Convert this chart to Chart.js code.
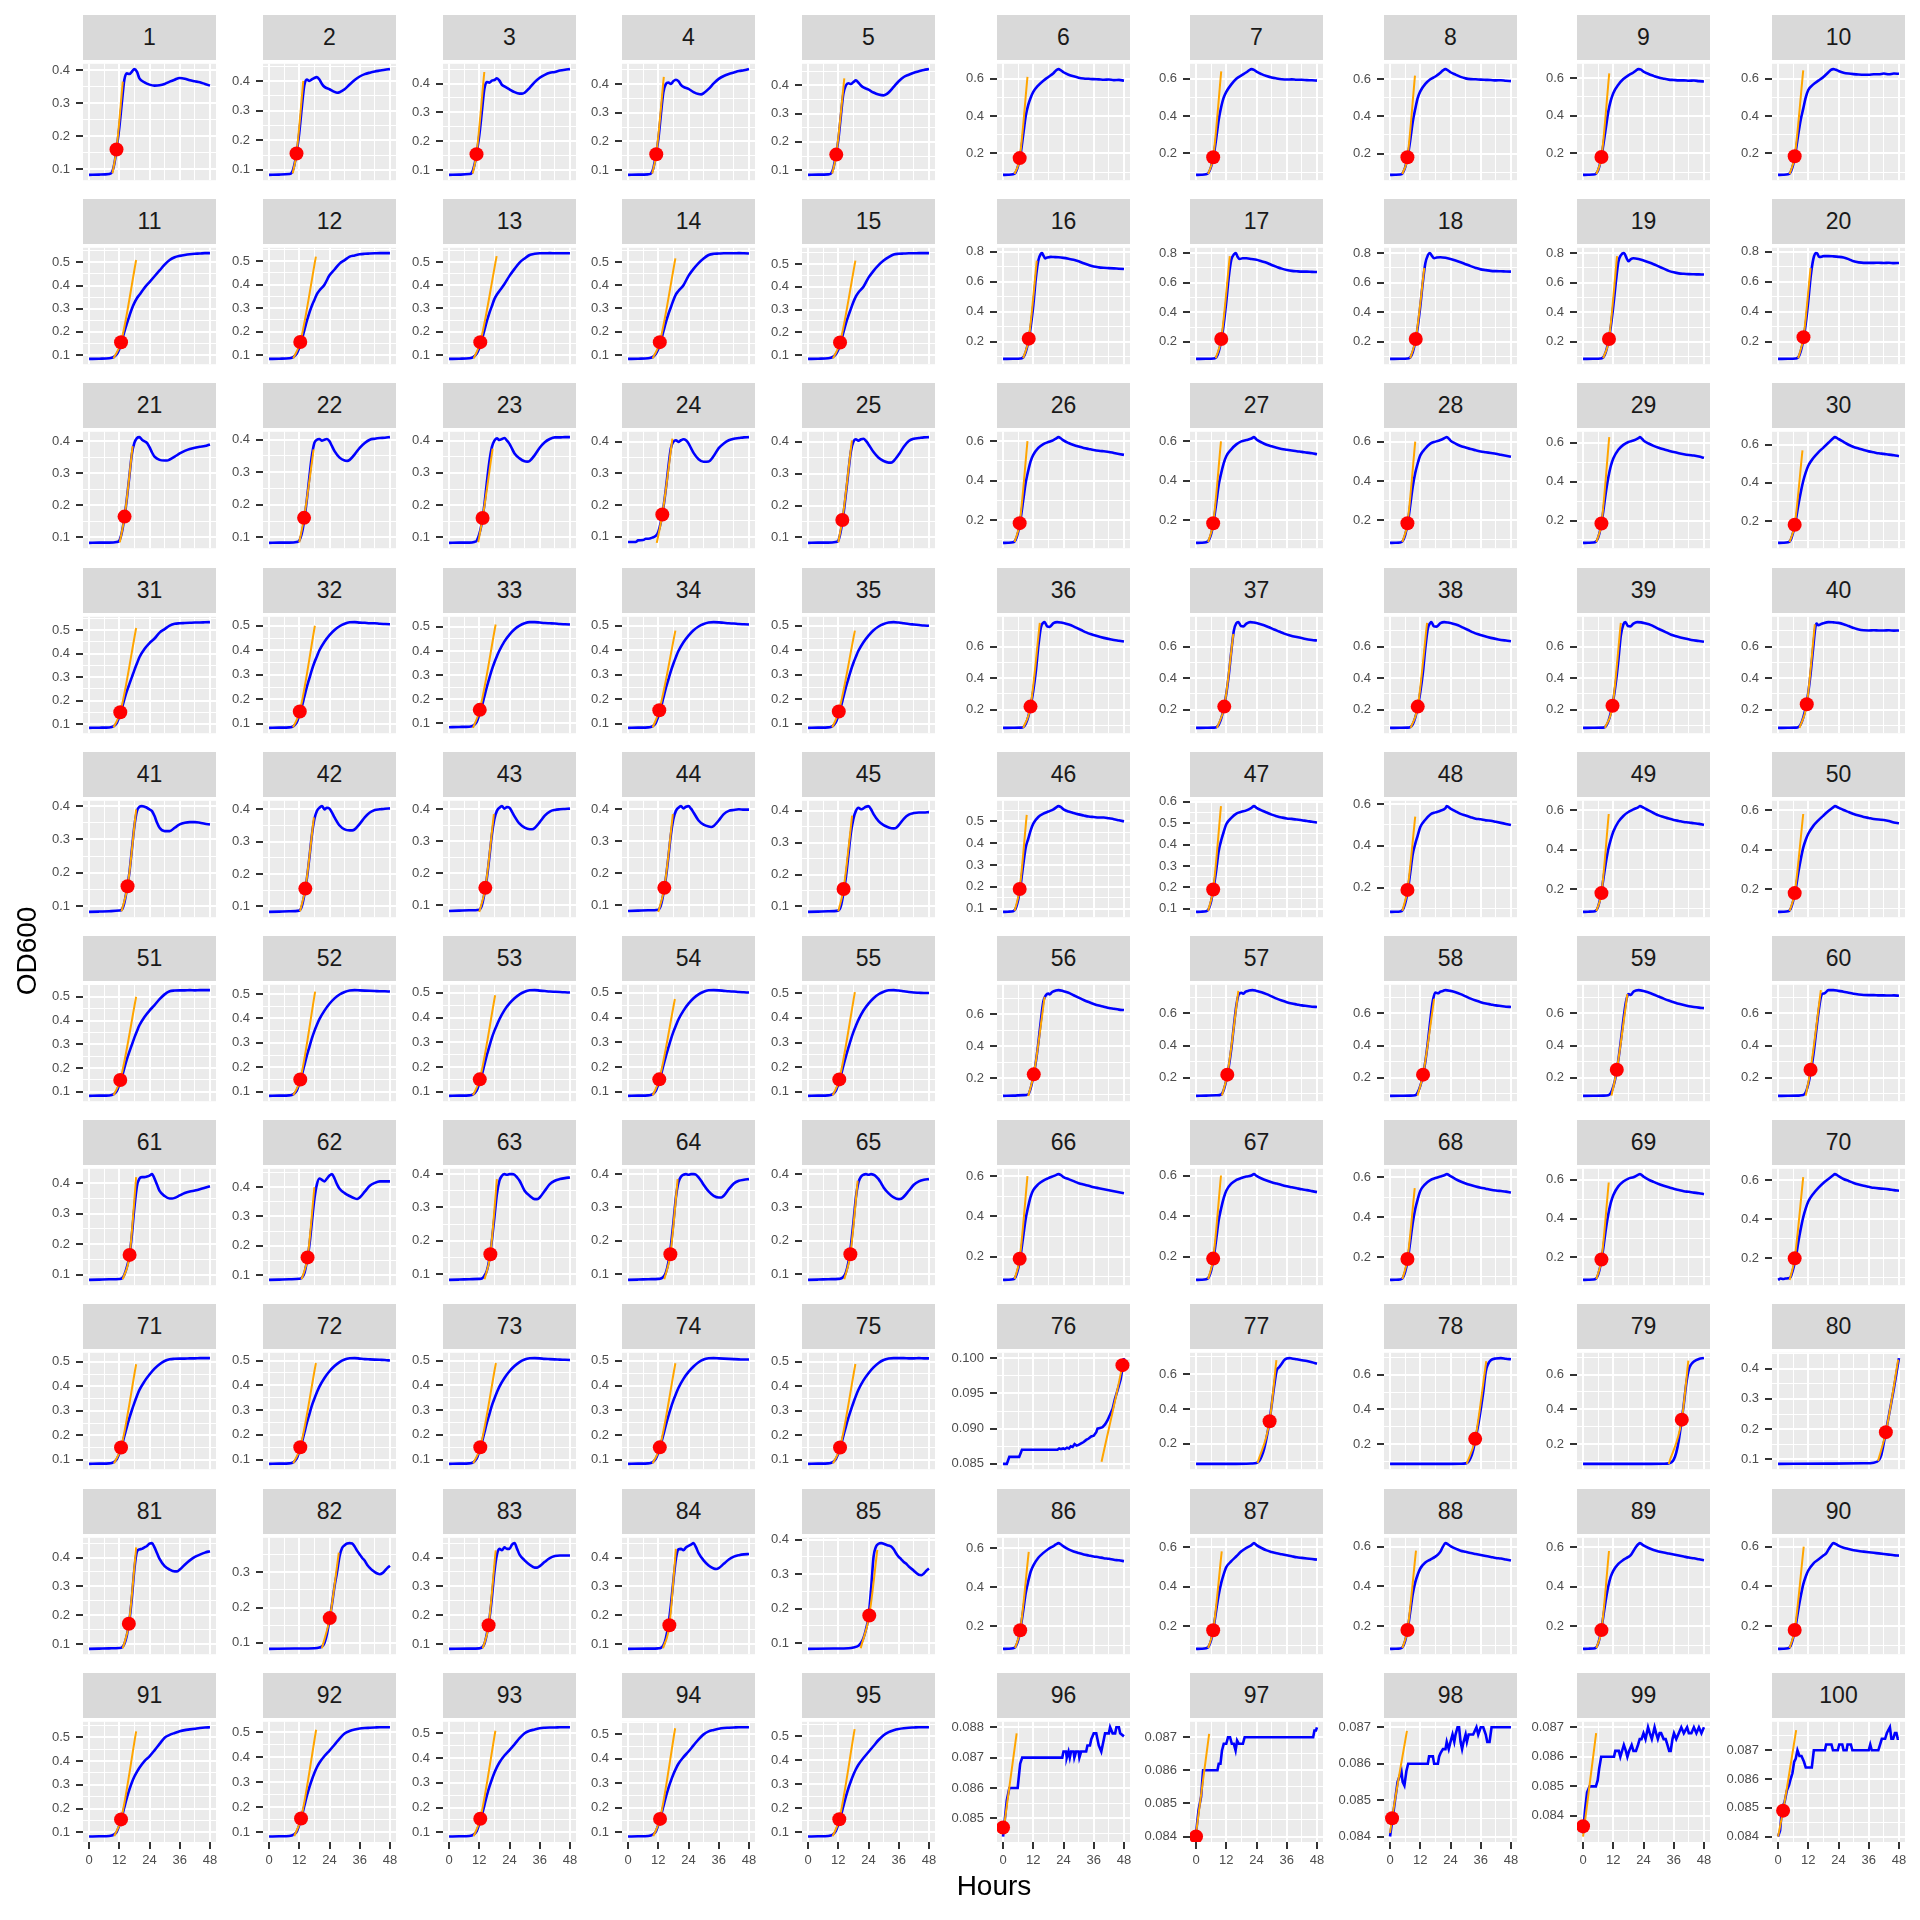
<!DOCTYPE html>
<html><head><meta charset="utf-8">
<script src="https://cdn.jsdelivr.net/npm/chart.js@4.4.1/dist/chart.umd.min.js"></script>
<style>
html,body{margin:0;padding:0;background:#fff;}
#root{position:relative;width:1920px;height:1920px;overflow:hidden;font-family:"Liberation Sans",Arial,Helvetica,sans-serif;}
.strip{position:absolute;background:#D9D9D9;color:#1A1A1A;font-size:23px;display:flex;align-items:center;justify-content:center;line-height:1;}
canvas{position:absolute;}
.ttl{position:absolute;color:#000;font-size:28px;line-height:32px;text-align:center;}
</style></head><body><div id="root"></div>
<script>
// ---------------- DATA ----------------
const wells = [1,2,3,4,5,6,7,8,9,10,11,12,13,14,15,16,17,18,19,20,21,22,23,24,25,26,27,28,29,30,31,32,33,34,35,36,37,38,39,40,41,42,43,44,45,46,47,48,49,50,51,52,53,54,55,56,57,58,59,60,61,62,63,64,65,66,67,68,69,70,71,72,73,74,75,76,77,78,79,80,81,82,83,84,85,86,87,88,89,90,91,92,93,94,95,96,97,98,99,100];
const hourTicks = [0, 12, 24, 36, 48];
const hourMinorTicks = [6, 18, 30, 42];
const xLabel = "Hours";
const yLabel = "OD600";

// each curve: flat list of hour, OD600 pairs
const odRow1 = [
[0,.083,4,.084,8,.086,9,.09,10,.115,11,.165,12,.225,13,.3,14,.37,15,.39,16,.388,17,.395,18,.403,19,.395,20,.375,22,.363,24,.356,26,.353,28,.354,30,.358,32,.365,34,.371,36,.376,38,.374,40,.369,42,.366,44,.363,46,.358,48,.353],
[0,.083,4,.084,8,.086,9,.09,10,.115,11,.16,12,.225,13,.31,14,.385,15,.405,16,.4,17,.405,18,.41,19,.413,20,.405,21,.39,22,.38,24,.372,26,.363,27,.36,28,.362,30,.372,32,.388,34,.403,36,.415,38,.423,40,.428,42,.432,44,.435,46,.438,48,.44],
[0,.083,4,.084,8,.086,9,.09,10,.115,11,.16,12,.22,13,.3,14,.38,15,.405,16,.403,17,.41,18,.412,19,.418,20,.41,21,.395,22,.39,24,.38,26,.37,28,.365,29,.365,30,.368,32,.385,34,.405,36,.42,38,.43,40,.437,42,.44,44,.445,46,.448,48,.45],
[0,.083,4,.084,8,.085,9,.087,10,.105,11,.15,12,.205,13,.29,14,.37,15,.4,16,.405,17,.4,18,.41,19,.415,20,.41,21,.397,22,.39,24,.383,26,.372,28,.365,29,.364,30,.368,32,.383,34,.402,36,.418,38,.428,40,.435,42,.44,44,.445,46,.448,48,.452],
[0,.083,4,.084,8,.085,9,.087,10,.105,11,.15,12,.205,13,.29,14,.37,15,.4,16,.408,17,.405,18,.412,19,.418,20,.41,21,.4,22,.393,24,.385,26,.375,28,.368,30,.365,31,.368,32,.375,34,.395,36,.415,38,.43,40,.438,42,.445,44,.45,46,.455,48,.458],
[0,.085,2,.086,4,.088,5,.098,6,.135,7,.2,8,.3,9,.4,10,.46,11,.5,12,.53,14,.565,16,.59,18,.61,20,.63,21,.645,22,.652,23,.645,24,.635,26,.622,28,.613,30,.606,32,.602,34,.6,36,.598,38,.597,40,.595,42,.596,44,.593,46,.594,48,.59],
[0,.085,2,.086,4,.088,5,.097,6,.13,7,.19,8,.28,9,.38,10,.45,11,.5,12,.53,14,.57,16,.6,18,.618,20,.635,21,.645,22,.652,23,.648,24,.638,26,.625,28,.615,30,.607,32,.602,34,.598,36,.596,38,.597,40,.595,42,.595,44,.593,46,.592,48,.59],
[0,.085,2,.086,4,.087,5,.094,6,.125,7,.185,8,.27,9,.37,10,.44,11,.5,12,.535,14,.575,16,.6,18,.615,20,.635,21,.648,22,.655,23,.648,24,.638,26,.625,28,.613,30,.605,32,.601,34,.6,36,.598,38,.597,40,.596,42,.594,44,.595,46,.592,48,.59],
[0,.085,2,.086,4,.087,5,.09,6,.11,7,.16,8,.24,9,.33,10,.42,11,.48,12,.52,14,.565,16,.595,18,.615,20,.63,21,.64,22,.648,23,.645,24,.635,26,.622,28,.612,30,.603,32,.597,34,.592,36,.59,38,.588,40,.588,42,.586,44,.587,46,.584,48,.582],
[0,.085,2,.086,4,.088,5,.1,6,.14,7,.21,8,.3,9,.38,10,.44,11,.5,12,.54,14,.57,16,.59,18,.61,20,.635,21,.648,22,.652,23,.648,24,.642,26,.633,28,.628,30,.625,32,.623,34,.622,36,.622,38,.624,40,.624,42,.628,44,.624,46,.628,48,.627]
];
const odRow2 = [
[0,.083,4,.084,8,.086,9,.088,10,.093,11,.103,12,.125,13,.16,14,.2,15,.235,16,.268,17,.3,18,.325,19,.345,20,.36,22,.39,24,.415,26,.44,28,.465,30,.49,32,.51,34,.522,36,.528,38,.532,40,.535,42,.537,44,.538,46,.54,48,.54],
[0,.083,4,.084,8,.086,9,.088,10,.094,11,.106,12,.13,13,.165,14,.205,15,.245,16,.28,17,.31,18,.335,19,.36,20,.375,22,.4,24,.44,26,.465,28,.49,30,.505,32,.52,34,.525,36,.53,38,.532,40,.533,42,.534,44,.535,46,.535,48,.535],
[0,.083,4,.084,8,.086,9,.088,10,.094,11,.106,12,.13,13,.165,14,.205,15,.245,16,.28,17,.31,18,.34,19,.36,20,.375,22,.405,24,.44,26,.47,28,.497,30,.515,32,.53,34,.535,36,.537,38,.537,40,.538,42,.537,44,.537,46,.537,48,.537],
[0,.083,4,.084,8,.086,9,.088,10,.093,11,.104,12,.125,13,.16,14,.2,15,.24,16,.275,17,.305,18,.335,19,.36,20,.375,22,.4,24,.44,26,.47,28,.495,30,.515,32,.53,34,.535,36,.536,38,.537,40,.537,42,.537,44,.538,46,.537,48,.536],
[0,.083,4,.084,8,.086,9,.088,10,.093,11,.103,12,.123,13,.158,14,.198,15,.238,16,.272,17,.303,18,.333,19,.358,20,.375,22,.4,24,.44,26,.47,28,.495,30,.515,32,.53,34,.542,36,.545,38,.546,40,.547,42,.547,44,.548,46,.548,48,.548],
[0,.085,4,.086,7,.088,8,.095,9,.13,10,.2,11,.3,12,.44,13,.62,14,.74,15,.785,15.5,.79,16,.775,16.7,.755,17.5,.76,19,.765,20,.764,22,.762,24,.758,26,.752,28,.745,30,.735,32,.722,34,.71,36,.7,38,.695,40,.692,42,.69,44,.688,46,.686,48,.684],
[0,.085,4,.086,7,.088,8,.095,9,.135,10,.21,11,.32,12,.47,13,.64,14,.755,15,.79,15.8,.8,16.5,.775,17.3,.76,18.5,.765,20,.765,22,.76,24,.755,26,.745,28,.735,30,.72,32,.707,34,.695,36,.686,38,.68,40,.677,42,.675,44,.675,46,.673,48,.672],
[0,.085,4,.086,7,.088,8,.095,9,.13,10,.2,11,.3,12,.44,13,.6,14,.73,15,.785,15.8,.8,16.5,.785,17.5,.765,18.5,.77,20,.772,22,.768,24,.76,26,.75,28,.738,30,.725,32,.712,34,.7,36,.69,38,.685,40,.68,42,.678,44,.677,46,.676,48,.675],
[0,.085,4,.086,7,.088,8,.095,9,.13,10,.2,11,.3,12,.44,13,.6,14,.74,15,.785,16,.8,16.5,.795,17.3,.765,18,.745,19,.76,20,.765,22,.76,24,.75,26,.738,28,.725,30,.71,32,.695,34,.68,36,.67,38,.663,40,.66,42,.658,44,.657,46,.656,48,.655],
[0,.085,4,.086,7,.088,8,.095,9,.135,10,.21,11,.32,12,.47,13,.64,14,.75,15,.79,15.5,.788,16.3,.765,17,.765,18,.77,20,.77,22,.768,24,.765,26,.76,28,.75,30,.735,32,.728,34,.725,36,.725,38,.725,40,.726,42,.724,44,.726,46,.723,48,.724]
];
const odRow3 = [
[0,.083,4,.084,8,.084,11,.086,12,.09,13,.115,14,.16,15,.22,16,.29,17,.36,18,.395,19,.41,20,.413,21,.405,22,.4,23,.395,24,.382,25,.365,26,.352,28,.342,30,.34,31,.34,32,.343,34,.352,36,.362,38,.37,40,.376,42,.38,44,.383,46,.385,48,.39],
[0,.083,4,.084,8,.084,11,.086,12,.09,13,.112,14,.155,15,.215,16,.285,17,.35,18,.39,19,.4,20,.402,21,.397,22,.4,23,.402,24,.395,25,.38,26,.365,28,.345,30,.336,31,.335,32,.338,34,.355,36,.375,38,.39,40,.4,42,.403,44,.405,46,.406,48,.408],
[0,.083,4,.084,8,.084,10,.086,11,.09,12,.11,13,.145,14,.2,15,.27,16,.335,17,.38,18,.4,19,.407,20,.402,21,.405,22,.408,23,.4,24,.39,25,.375,26,.36,28,.345,30,.336,31,.335,32,.337,34,.355,36,.378,38,.395,40,.405,42,.41,44,.41,46,.411,48,.411],
[0,.083,3,.083,4,.088,6,.089,7,.093,8,.093,10,.098,11,.102,12,.115,13,.145,14,.19,15,.25,16,.32,17,.38,18,.4,19,.405,20,.4,21,.405,22,.408,23,.405,24,.395,25,.38,26,.365,28,.345,30,.337,32,.338,34,.355,36,.38,38,.395,40,.405,42,.41,44,.412,46,.414,48,.415],
[0,.083,4,.084,8,.084,11,.086,12,.09,13,.12,14,.17,15,.235,16,.305,17,.37,18,.4,19,.408,20,.404,21,.408,22,.41,23,.403,24,.392,26,.368,28,.35,30,.34,32,.335,33,.335,34,.34,36,.36,38,.385,40,.403,42,.41,44,.412,46,.414,48,.415],
[0,.085,2,.086,4,.088,5,.1,6,.14,7,.21,8,.3,9,.39,10,.45,11,.5,12,.53,14,.565,16,.585,18,.595,20,.605,21,.612,22,.62,23,.613,24,.603,26,.59,28,.58,30,.572,32,.565,34,.56,36,.555,38,.551,40,.548,42,.545,44,.54,46,.535,48,.53],
[0,.085,2,.086,4,.088,5,.097,6,.13,7,.195,8,.285,9,.38,10,.44,11,.49,12,.525,14,.56,16,.585,18,.6,20,.607,22,.615,23,.622,24,.61,26,.595,28,.583,30,.575,32,.568,34,.562,36,.558,38,.554,40,.55,42,.547,44,.543,46,.54,48,.535],
[0,.085,2,.086,4,.087,5,.094,6,.125,7,.185,8,.275,9,.37,10,.44,11,.49,12,.53,14,.565,16,.59,18,.6,20,.608,22,.62,22.5,.623,23.5,.613,24,.605,26,.59,28,.578,30,.57,32,.562,34,.556,36,.55,38,.546,40,.542,42,.538,44,.533,46,.528,48,.523],
[0,.085,2,.086,4,.087,5,.09,6,.112,7,.165,8,.245,9,.34,10,.42,11,.48,12,.52,14,.565,16,.59,18,.605,20,.612,22,.625,22.6,.63,23.5,.62,24,.613,26,.597,28,.585,30,.575,32,.567,34,.56,36,.553,38,.547,40,.542,42,.538,44,.535,46,.53,48,.523],
[0,.085,2,.086,4,.088,5,.1,6,.14,7,.2,8,.28,9,.35,10,.41,11,.455,12,.49,14,.53,16,.56,18,.585,20,.61,22,.635,22.5,.64,24,.63,26,.615,28,.6,30,.588,32,.58,34,.572,36,.565,38,.56,40,.555,42,.552,44,.548,46,.545,48,.54]
];
const odRow4 = [
[0,.083,4,.084,8,.085,9,.087,10,.092,11,.103,12,.13,13,.165,14,.205,15,.24,16,.27,17,.3,18,.33,19,.358,20,.385,22,.42,24,.445,26,.465,28,.49,30,.505,32,.52,34,.528,36,.53,38,.531,40,.532,42,.533,44,.533,46,.534,48,.535],
[0,.083,4,.084,8,.085,9,.087,10,.093,11,.105,12,.135,13,.17,14,.21,15,.25,16,.285,17,.32,18,.35,19,.375,20,.4,22,.435,24,.462,26,.483,28,.498,30,.508,32,.514,34,.515,36,.513,38,.512,40,.51,42,.51,44,.508,46,.507,48,.506],
[0,.083,4,.084,8,.085,9,.087,10,.093,11,.105,12,.135,13,.17,14,.21,15,.25,16,.287,17,.322,18,.352,19,.378,20,.402,22,.44,24,.468,26,.49,28,.505,30,.515,32,.52,34,.52,36,.518,38,.516,40,.515,42,.514,44,.512,46,.511,48,.51],
[0,.083,4,.084,8,.085,9,.087,10,.092,11,.103,12,.13,13,.165,14,.205,15,.245,16,.28,17,.315,18,.345,19,.372,20,.397,22,.433,24,.46,26,.482,28,.497,30,.507,32,.513,34,.515,36,.514,38,.512,40,.51,42,.509,44,.507,46,.506,48,.505],
[0,.083,4,.084,8,.085,9,.087,10,.093,11,.105,12,.133,13,.168,14,.208,15,.248,16,.283,17,.318,18,.348,19,.374,20,.398,22,.433,24,.46,26,.482,28,.497,30,.507,32,.513,34,.515,36,.513,38,.51,40,.507,42,.505,44,.503,46,.501,48,.5],
[0,.085,4,.086,7,.087,8,.09,9,.11,10,.155,11,.225,12,.32,13,.44,14,.6,15,.72,16,.752,16.5,.755,17.5,.728,18.5,.725,20,.748,21.5,.755,23,.752,25,.745,27,.735,29,.72,31,.705,33,.69,35,.678,37,.668,40,.655,43,.645,46,.637,48,.632],
[0,.085,4,.086,7,.087,8,.089,9,.105,10,.145,11,.21,12,.3,13,.42,14,.57,15,.7,16,.748,16.8,.755,17.8,.73,18.8,.728,20,.745,21.5,.755,23,.752,25,.745,27,.735,29,.722,31,.708,33,.695,35,.682,37,.672,40,.66,43,.65,46,.642,48,.638],
[0,.085,4,.086,7,.087,8,.09,9,.108,10,.15,11,.218,12,.31,13,.43,14,.59,15,.715,16,.75,16.4,.755,17.4,.728,18.4,.726,20,.748,21.5,.755,23,.752,25,.745,27,.735,29,.72,31,.705,33,.69,35,.678,37,.668,40,.655,43,.645,46,.638,48,.634],
[0,.085,4,.086,8,.087,9,.095,10,.125,11,.18,12,.26,13,.37,14,.51,15,.67,16,.74,16.8,.755,17.8,.73,18.8,.728,20,.745,21.5,.755,23,.753,25,.746,27,.736,29,.72,31,.705,33,.69,35,.675,37,.665,40,.652,43,.642,46,.635,48,.63],
[0,.085,4,.086,7,.087,8,.09,9,.108,10,.15,11,.215,12,.31,13,.44,14,.6,14.8,.72,15.3,.745,16,.735,17,.742,18,.748,20,.755,22,.753,24,.75,26,.742,28,.73,30,.718,32,.708,34,.703,36,.702,38,.703,40,.702,42,.702,44,.703,46,.701,48,.702]
];
const odRow5 = [
[0,.083,4,.084,8,.085,12,.087,13,.09,14,.11,15,.15,16,.2,17,.27,18,.34,19,.385,20,.398,21,.4,22,.398,23,.395,24,.39,25,.385,26,.37,27,.35,28,.335,30,.325,32,.325,34,.335,36,.345,38,.35,40,.352,42,.352,44,.35,46,.347,48,.345],
[0,.083,4,.084,8,.085,12,.087,13,.1,14,.135,15,.185,16,.25,17,.32,18,.37,19,.395,20,.405,21,.41,22,.4,23,.405,24,.402,25,.39,26,.375,28,.35,30,.338,32,.335,33,.335,34,.338,36,.355,38,.375,40,.39,42,.398,44,.4,46,.402,48,.403],
[0,.083,4,.084,8,.085,12,.087,13,.1,14,.135,15,.185,16,.25,17,.32,18,.37,19,.395,20,.405,21,.41,22,.402,23,.407,24,.405,25,.392,26,.378,28,.355,30,.343,32,.338,33,.338,34,.342,36,.36,38,.38,40,.393,42,.398,44,.4,46,.401,48,.402],
[0,.083,4,.084,8,.085,12,.087,13,.1,14,.135,15,.185,16,.25,17,.32,18,.37,19,.395,20,.405,21,.41,22,.403,23,.408,24,.41,25,.402,26,.39,28,.365,30,.352,32,.346,33,.345,34,.348,36,.365,38,.385,40,.395,42,.398,44,.4,46,.399,48,.399],
[0,.083,4,.084,8,.085,12,.087,13,.1,14,.14,15,.19,16,.26,17,.33,18,.375,19,.4,20,.41,21,.405,22,.408,23,.413,24,.415,25,.405,26,.39,28,.368,30,.355,32,.348,34,.345,35,.347,36,.355,38,.375,40,.388,42,.393,44,.395,46,.395,48,.396],
[0,.085,2,.086,4,.088,5,.1,6,.14,7,.21,8,.3,9,.38,10,.42,11,.46,12,.49,14,.52,16,.535,18,.545,20,.555,21,.563,22,.57,23,.565,24,.555,26,.545,28,.538,30,.532,32,.527,34,.522,36,.52,38,.518,40,.518,42,.514,44,.51,46,.505,48,.5],
[0,.085,2,.086,4,.088,5,.098,6,.135,7,.2,8,.28,9,.37,10,.42,11,.46,12,.495,14,.525,16,.545,18,.553,20,.56,22,.572,23,.58,24,.572,26,.56,28,.55,30,.54,32,.533,34,.527,36,.522,38,.52,40,.517,42,.514,44,.51,46,.507,48,.503],
[0,.085,2,.086,4,.087,5,.094,6,.125,7,.185,8,.27,9,.36,10,.41,11,.45,12,.49,14,.525,16,.55,18,.56,20,.568,22,.58,22.5,.59,24,.578,26,.565,28,.553,30,.545,32,.537,34,.53,36,.527,38,.522,40,.52,42,.515,44,.51,46,.505,48,.5],
[0,.085,2,.086,4,.087,5,.09,6,.112,7,.165,8,.245,9,.33,10,.4,11,.45,12,.49,14,.54,16,.57,18,.59,20,.603,22,.615,22.6,.62,24,.612,26,.598,28,.585,30,.573,32,.565,34,.557,36,.55,38,.545,40,.54,42,.537,44,.533,46,.53,48,.525],
[0,.085,2,.086,4,.088,5,.1,6,.14,7,.2,8,.28,9,.35,10,.41,11,.45,12,.48,14,.52,16,.548,18,.572,20,.595,22,.615,22.6,.62,24,.612,26,.6,28,.59,30,.58,32,.572,34,.565,36,.56,38,.555,40,.552,42,.55,44,.545,46,.537,48,.533]
];
const odRow6 = [
[0,.083,4,.084,8,.085,9,.087,10,.092,11,.103,12,.13,13,.162,14,.2,15,.237,16,.268,17,.298,18,.328,19,.355,20,.38,22,.415,24,.442,26,.465,28,.49,30,.51,32,.523,34,.526,36,.527,38,.527,40,.528,42,.527,44,.528,46,.528,48,.528],
[0,.083,4,.084,8,.085,9,.087,10,.093,11,.105,12,.133,13,.168,14,.208,15,.248,16,.283,17,.318,18,.348,19,.374,20,.397,22,.432,24,.46,26,.482,28,.498,30,.508,32,.514,34,.516,36,.515,38,.514,40,.513,42,.512,44,.511,46,.511,48,.51],
[0,.083,4,.084,8,.085,9,.087,10,.093,11,.105,12,.133,13,.168,14,.208,15,.248,16,.283,17,.318,18,.346,19,.37,20,.393,22,.43,24,.457,26,.478,28,.494,30,.504,32,.51,34,.511,36,.509,38,.507,40,.505,42,.504,44,.503,46,.502,48,.501],
[0,.083,4,.084,8,.085,9,.087,10,.092,11,.103,12,.13,13,.165,14,.205,15,.243,16,.278,17,.312,18,.342,19,.368,20,.392,22,.428,24,.456,26,.478,28,.494,30,.504,32,.51,34,.511,36,.51,38,.508,40,.506,42,.505,44,.503,46,.502,48,.501],
[0,.083,4,.084,8,.085,9,.087,10,.092,11,.103,12,.13,13,.165,14,.205,15,.243,16,.278,17,.312,18,.342,19,.368,20,.392,22,.43,24,.458,26,.48,28,.496,30,.506,32,.512,34,.513,36,.511,38,.508,40,.505,42,.503,44,.502,46,.501,48,.501],
[0,.09,4,.092,8,.095,10,.1,11,.14,12,.21,13,.3,14,.42,15,.56,16,.68,17,.72,18,.73,18.5,.725,19.5,.74,21,.75,22,.752,24,.745,26,.735,28,.72,30,.705,32,.69,34,.677,36,.665,38,.655,40,.648,42,.64,44,.635,46,.63,48,.627],
[0,.088,4,.09,8,.092,10,.097,11,.125,12,.185,13,.27,14,.38,15,.52,16,.65,17,.72,18,.728,18.7,.722,19.7,.735,21,.742,22.4,.745,24,.74,26,.732,28,.72,30,.706,32,.692,34,.68,36,.67,38,.662,40,.656,42,.65,44,.646,46,.642,48,.64],
[0,.088,4,.089,8,.09,10,.092,11,.11,12,.15,13,.21,14,.3,15,.42,16,.56,17,.68,18,.73,19,.725,20,.735,21,.74,22,.745,24,.74,26,.732,28,.72,30,.706,32,.692,34,.68,36,.67,38,.662,40,.656,42,.65,44,.646,46,.642,48,.64],
[0,.088,4,.089,8,.09,10,.092,11,.105,12,.145,13,.21,14,.31,15,.43,16,.56,17,.67,18,.72,19,.715,20,.735,21,.742,22,.745,24,.74,26,.73,28,.718,30,.705,32,.692,34,.68,36,.67,38,.66,40,.652,42,.645,44,.64,46,.636,48,.633],
[0,.088,4,.089,8,.09,10,.093,11,.11,12,.16,13,.24,14,.34,15,.47,16,.6,17,.7,17.5,.72,18.5,.725,20,.745,22,.745,24,.74,26,.735,28,.728,30,.722,32,.718,34,.715,36,.714,38,.714,40,.712,42,.712,44,.711,46,.712,48,.71]
];
const odRow7 = [
[0,.083,4,.084,8,.085,12,.086,13,.088,14,.1,15,.125,16,.16,17,.23,18,.32,19,.39,20,.415,21,.42,22,.42,23,.422,24,.425,25,.43,26,.415,27,.395,28,.375,30,.358,32,.35,33,.35,34,.352,36,.36,38,.368,40,.373,42,.376,44,.38,46,.385,48,.39],
[0,.083,4,.084,8,.085,12,.087,13,.09,14,.105,15,.145,16,.2,17,.28,18,.36,19,.41,20,.43,21,.425,22,.42,23,.43,24,.44,25,.445,26,.43,27,.41,28,.395,30,.38,32,.37,34,.362,35,.36,36,.365,38,.385,40,.405,42,.415,44,.42,46,.42,48,.42],
[0,.083,4,.084,8,.085,12,.086,13,.087,14,.095,15,.11,16,.145,17,.2,18,.27,19,.34,20,.38,21,.395,22,.4,23,.398,24,.4,25,.4,26,.398,27,.39,28,.38,29,.365,30,.35,32,.335,34,.325,35,.325,36,.33,38,.35,40,.37,42,.38,44,.385,46,.388,48,.39],
[0,.083,4,.084,8,.085,12,.086,13,.087,14,.092,15,.105,16,.135,17,.185,18,.255,19,.33,20,.375,21,.392,22,.398,23,.4,24,.398,25,.4,26,.4,27,.398,28,.39,29,.38,30,.368,32,.348,34,.335,36,.33,37,.33,38,.335,40,.355,42,.372,44,.38,46,.383,48,.385],
[0,.083,4,.084,8,.085,12,.086,13,.087,14,.092,15,.105,16,.135,17,.185,18,.255,19,.33,20,.375,21,.392,22,.398,23,.4,24,.398,25,.4,26,.398,27,.393,28,.385,29,.373,30,.36,32,.342,34,.33,36,.325,37,.326,38,.332,40,.35,42,.368,44,.378,46,.383,48,.385],
[0,.085,2,.086,4,.088,5,.1,6,.14,7,.21,8,.3,9,.39,10,.45,11,.5,12,.53,14,.56,16,.578,18,.59,20,.6,21,.605,22,.61,23,.605,24,.595,26,.585,28,.575,30,.565,32,.558,34,.552,36,.545,38,.54,40,.535,42,.53,44,.525,46,.52,48,.515],
[0,.085,2,.086,4,.088,5,.097,6,.13,7,.195,8,.285,9,.38,10,.44,11,.49,12,.525,14,.56,16,.578,18,.588,20,.595,22,.6,23,.607,24,.598,26,.585,28,.575,30,.567,32,.56,34,.553,36,.547,38,.542,40,.537,42,.532,44,.528,46,.523,48,.518],
[0,.085,2,.086,4,.087,5,.094,6,.125,7,.185,8,.275,9,.37,10,.44,11,.49,12,.53,14,.565,16,.585,18,.595,20,.603,22,.612,22.5,.615,24,.605,26,.59,28,.578,30,.568,32,.56,34,.553,36,.547,38,.542,40,.537,42,.533,44,.53,46,.527,48,.523],
[0,.085,2,.086,4,.087,5,.09,6,.112,7,.165,8,.245,9,.34,10,.42,11,.48,12,.52,14,.565,16,.59,18,.605,20,.612,22,.625,22.6,.628,24,.615,26,.6,28,.588,30,.577,32,.568,34,.56,36,.553,38,.546,40,.54,42,.537,44,.533,46,.53,48,.525],
[0,.09,1,.097,2,.095,3,.097,4,.098,5,.105,6,.145,7,.2,8,.28,9,.35,10,.41,11,.455,12,.49,14,.53,16,.56,18,.585,20,.605,22,.625,22.5,.63,24,.62,26,.605,28,.595,30,.585,32,.577,34,.57,36,.565,38,.56,40,.557,42,.555,44,.552,46,.548,48,.545]
];
const odRow8 = [
[0,.083,4,.084,8,.085,9,.087,10,.092,11,.102,12,.125,13,.158,14,.196,15,.234,16,.27,17,.302,18,.332,19,.36,20,.385,22,.42,24,.448,26,.472,28,.49,30,.503,32,.51,34,.512,36,.513,38,.513,40,.514,42,.514,44,.515,46,.515,48,.515],
[0,.083,4,.084,8,.085,9,.087,10,.093,11,.105,12,.133,13,.168,14,.208,15,.248,16,.283,17,.318,18,.346,19,.372,20,.395,22,.43,24,.457,26,.478,28,.494,30,.504,32,.509,34,.51,36,.508,38,.506,40,.505,42,.504,44,.503,46,.502,48,.5],
[0,.083,4,.084,8,.085,9,.087,10,.093,11,.105,12,.133,13,.168,14,.208,15,.248,16,.283,17,.318,18,.346,19,.372,20,.395,22,.43,24,.457,26,.478,28,.494,30,.504,32,.509,34,.51,36,.509,38,.507,40,.506,42,.505,44,.504,46,.503,48,.502],
[0,.083,4,.084,8,.085,9,.087,10,.092,11,.103,12,.128,13,.162,14,.2,15,.24,16,.276,17,.31,18,.34,19,.366,20,.39,22,.427,24,.455,26,.477,28,.494,30,.505,32,.51,34,.511,36,.51,38,.509,40,.508,42,.507,44,.506,46,.505,48,.505],
[0,.083,4,.084,8,.085,9,.087,10,.092,11,.102,12,.125,13,.158,14,.196,15,.234,16,.27,17,.302,18,.332,19,.36,20,.385,22,.423,24,.452,26,.476,28,.494,30,.506,32,.512,34,.514,36,.514,38,.514,40,.513,42,.513,44,.514,46,.513,48,.513],
[0,.085,1.5,.085,2.5,.086,6.4,.086,7.5,.087,21.6,.087,22.3,.0872,23,.0871,23.9,.0872,24.5,.0871,25.4,.0873,26.2,.0872,26.9,.0875,27.6,.0874,28.4,.0878,29.2,.0876,30,.0877,31,.0879,32,.0881,33,.0884,34,.0886,35,.0889,36,.089,37,.0895,37.5,.09,38.5,.0901,39.5,.0902,40.5,.0906,41.5,.0912,42.5,.092,43.5,.0928,44.4,.0942,45.5,.0955,46.7,.097,47.4,.0985,48,.1],
[0,.085,10,.085,20,.086,22,.087,24,.09,25,.1,26,.128,27,.17,28,.235,29,.315,30,.42,31,.53,32,.62,33,.64,34,.66,35,.68,36,.69,37,.692,38,.69,40,.685,42,.68,44,.675,46,.668,48,.66],
[0,.085,10,.085,20,.085,28,.086,30,.088,31,.095,32,.12,33,.165,34,.235,35,.31,36,.4,37,.5,38,.62,39,.665,40,.685,42,.695,44,.697,46,.693,48,.69],
[0,.085,20,.085,32,.086,34,.088,35,.093,36,.11,37,.15,38,.22,39,.32,40,.43,41,.55,42,.63,43,.66,44,.675,46,.69,48,.695],
[0,.085,20,.086,34,.087,38,.089,40,.097,41,.115,42,.155,43,.2,44,.245,45,.29,46,.335,47,.385,48,.435]
];
const odRow9 = [
[0,.083,4,.084,8,.085,12,.086,13,.088,14,.1,15,.13,16,.18,17,.26,18,.36,19,.42,20,.428,21,.43,22,.435,23,.44,24,.448,25,.45,26,.435,27,.415,28,.395,30,.37,32,.358,34,.352,35,.352,36,.358,38,.375,40,.39,42,.402,44,.41,46,.417,48,.422],
[0,.083,10,.084,18,.085,20,.087,21,.09,22,.1,23,.125,24,.165,25,.21,26,.26,27,.3,28,.345,29,.368,30,.376,31,.381,32,.382,33,.381,34,.372,35,.36,36,.35,37,.34,38,.332,39,.32,40,.312,41,.305,42,.3,43,.296,44,.294,45,.297,46,.304,47,.312,48,.318],
[0,.083,8,.084,12,.085,13,.088,14,.1,15,.135,16,.185,17,.26,18,.35,19,.41,20,.43,21,.425,22,.435,23,.43,24,.43,25,.445,26,.45,27,.43,28,.41,30,.39,32,.375,34,.365,35,.365,36,.37,38,.385,40,.398,42,.405,44,.407,46,.407,48,.407],
[0,.083,8,.084,12,.085,13,.087,14,.095,15,.12,16,.165,17,.235,18,.32,19,.395,20,.428,21,.43,22,.425,23,.435,24,.44,25,.445,26,.45,27,.435,28,.415,30,.39,32,.372,34,.362,35,.36,36,.363,38,.378,40,.393,42,.403,44,.408,46,.411,48,.412],
[0,.083,10,.084,16,.085,18,.087,20,.092,21,.1,22,.115,23,.14,24,.175,25,.255,26,.35,27,.38,28,.388,29,.39,30,.388,31,.385,32,.383,33,.38,34,.372,35,.36,36,.35,37,.343,38,.335,39,.33,40,.322,42,.31,43,.303,44,.298,45,.297,46,.302,47,.31,48,.316],
[0,.085,2,.086,4,.088,5,.097,6,.13,7,.195,8,.28,9,.37,10,.43,11,.48,12,.51,14,.55,16,.575,18,.595,20,.61,21,.618,22,.625,23,.618,24,.608,26,.593,28,.582,30,.574,32,.567,34,.562,36,.557,38,.553,40,.548,42,.545,44,.54,46,.537,48,.533],
[0,.085,2,.086,4,.088,5,.097,6,.13,7,.195,8,.28,9,.36,10,.42,11,.465,12,.5,14,.53,16,.555,18,.58,20,.598,22,.612,23,.622,24,.612,26,.597,28,.585,30,.577,32,.57,34,.565,36,.56,38,.555,40,.55,42,.547,44,.544,46,.541,48,.538],
[0,.085,2,.086,4,.087,5,.094,6,.125,7,.185,8,.27,9,.36,10,.42,11,.46,12,.49,14,.52,16,.535,18,.55,19,.56,20,.575,21,.6,22,.618,23,.612,24,.603,26,.59,28,.58,30,.574,32,.568,34,.563,36,.558,38,.553,40,.548,42,.543,44,.54,46,.535,48,.53],
[0,.085,2,.086,4,.087,5,.09,6,.112,7,.165,8,.245,9,.33,10,.4,11,.45,12,.48,14,.515,16,.535,18,.55,19,.56,20,.58,21,.6,22,.615,22.6,.62,24,.608,26,.595,28,.585,30,.578,32,.572,34,.567,36,.562,38,.557,40,.552,42,.547,44,.543,46,.538,48,.533],
[0,.085,2,.086,4,.088,5,.1,6,.14,7,.2,8,.28,9,.35,10,.41,11,.45,12,.48,14,.515,16,.535,18,.555,19,.565,20,.585,21,.605,22,.618,23,.613,24,.605,26,.595,28,.588,30,.582,32,.578,34,.575,36,.572,38,.569,40,.566,42,.563,44,.56,46,.557,48,.555]
];
const odRow10 = [
[0,.083,4,.084,8,.085,9,.087,10,.092,11,.103,12,.13,13,.165,14,.205,15,.245,16,.28,17,.31,18,.335,19,.355,20,.372,22,.4,24,.42,26,.445,28,.472,30,.498,32,.51,34,.518,36,.525,38,.53,40,.533,42,.536,44,.539,46,.541,48,.542],
[0,.083,4,.084,8,.085,9,.087,10,.092,11,.103,12,.13,13,.165,14,.205,15,.245,16,.28,17,.31,18,.337,19,.36,20,.378,22,.405,24,.427,26,.45,28,.475,30,.495,32,.505,34,.511,36,.515,38,.517,40,.518,42,.519,44,.52,46,.52,48,.52],
[0,.083,4,.084,8,.085,9,.087,10,.093,11,.105,12,.133,13,.168,14,.208,15,.248,16,.283,17,.313,18,.34,19,.363,20,.382,22,.41,24,.432,26,.455,28,.48,30,.5,32,.51,34,.515,36,.52,38,.522,40,.523,42,.523,44,.524,46,.524,48,.524],
[0,.083,4,.084,8,.085,9,.087,10,.092,11,.103,12,.13,13,.165,14,.205,15,.245,16,.28,17,.31,18,.337,19,.36,20,.38,22,.407,24,.43,26,.455,28,.48,30,.5,32,.512,34,.518,36,.523,38,.526,40,.527,42,.528,44,.529,46,.529,48,.529],
[0,.083,4,.084,8,.085,9,.087,10,.093,11,.105,12,.133,13,.168,14,.208,15,.248,16,.283,17,.313,18,.34,19,.363,20,.382,22,.41,24,.435,26,.46,28,.485,30,.505,32,.518,34,.526,36,.531,38,.534,40,.536,42,.537,44,.538,46,.538,48,.538],
[0,.0844,0.5,.0848,1.5,.0856,2.5,.086,5.8,.086,6.3,.0864,6.8,.0868,7.6,.087,23.5,.087,24,.0872,25,.0872,25.3,.087,26,.0872,26.5,.087,27,.0872,28,.0872,28.3,.087,29,.0872,30,.0872,30.3,.087,31,.0872,33,.0872,33.5,.0874,34.5,.0874,35,.0876,36,.0878,37,.0878,38,.0874,39,.0872,40,.0876,40.5,.0878,42,.0878,42.5,.088,43.5,.0878,44.5,.0878,45,.088,46,.088,46.5,.0878,48,.0877],
[0,.0841,1,.0848,2,.0852,2.8,.086,8.5,.086,9,.0862,9.7,.0862,10.3,.0866,11,.0868,12,.0868,12.7,.087,13.5,.087,14.2,.0868,15,.0868,15.7,.0866,16.3,.0869,17,.0868,18.6,.0868,19.3,.087,46.5,.087,47,.0872,47.6,.0872,48,.0873],
[0,.084,1,.0845,2,.085,3,.0855,3.5,.0856,4.5,.0858,5,.0855,5.7,.0854,6.5,.0858,7.2,.086,15,.086,15.5,.0862,17,.0862,17.5,.086,19,.086,19.5,.0862,20.1,.0863,21,.0864,22,.0864,22.5,.0866,23.3,.0864,24,.0866,24.8,.0868,25.5,.0866,26,.0868,26.8,.087,27.4,.087,28,.0866,28.6,.0864,29.2,.0866,30,.0868,30.5,.0866,31.2,.0868,33,.0868,34.3,.087,35,.0868,36,.087,37,.087,38,.0868,38.6,.0866,39.5,.0866,40.3,.087,48,.087],
[0,.0834,0.8,.0842,1.6,.0848,2.6,.085,5.1,.085,5.8,.0852,6.4,.0856,7.2,.086,12.3,.086,12.8,.0862,14.2,.0862,14.8,.086,15.5,.0862,16.2,.0864,17,.0862,17.6,.086,18.3,.0862,19.3,.0864,20,.0862,21,.0862,21.8,.0864,22.5,.0866,23.2,.0866,24,.0868,24.8,.0866,25.8,.087,26.5,.0868,27.3,.0866,28.4,.087,29,.0868,29.7,.0866,30.4,.0868,31,.0868,32,.0866,32.8,.0866,33.5,.0864,34.2,.0862,34.8,.0862,35.5,.0866,36.1,.0868,37,.0866,38,.0868,39,.087,40,.0868,41.3,.087,42,.0868,43,.0868,44,.087,45,.0868,46,.087,47,.0868,48,.087],
[0,.084,0.8,.0842,1.6,.085,2.6,.0852,3.5,.0856,4.4,.0858,5,.086,5.7,.0862,6.4,.0866,7,.0867,7.7,.087,8.5,.0868,9.3,.0868,10.3,.0866,11,.0864,13.4,.0864,14.2,.087,18.6,.087,19.1,.0872,21.2,.0872,21.8,.087,23.7,.087,24.3,.0872,25.5,.0872,26,.087,27.2,.087,27.6,.0872,28.9,.0872,29.5,.087,36,.087,36.6,.0872,37.2,.087,39.8,.087,40.5,.0872,41.2,.0874,42.5,.0874,43.2,.0876,44.4,.0878,45,.0874,45.7,.0874,46.4,.0876,47,.0876,47.5,.0874,48,.0874]
];

// red points: [hour, OD600] of maximum growth rate
const maxRateDots = [
[10.9,.16],[10.9,.155],[10.9,.155],[11.2,.155],[11.2,.155],[6.6,.175],[6.8,.18],[6.9,.18],[7.3,.18],[6.6,.185],
[12.7,.155],[12.4,.155],[12.4,.155],[12.6,.155],[12.7,.155],[10.2,.22],[10,.22],[10.2,.22],[10.3,.22],[10.1,.23],
[14.1,.165],[13.9,.16],[13.3,.16],[13.6,.17],[13.6,.155],[6.6,.185],[6.8,.185],[6.9,.185],[7.3,.185],[6.6,.18],
[12.4,.15],[12.2,.15],[12.2,.155],[12.4,.155],[12.2,.15],[10.9,.22],[11.2,.22],[11,.22],[11.7,.225],[11.4,.235],
[15.3,.16],[14.4,.155],[14.4,.155],[14.4,.155],[14.1,.155],[6.6,.19],[6.8,.19],[6.9,.19],[7.3,.18],[6.6,.18],
[12.4,.15],[12.4,.15],[12.2,.15],[12.4,.15],[12.4,.15],[12.2,.225],[12.4,.22],[13.1,.22],[13.4,.25],[12.9,.25],
[16.1,.165],[15.3,.16],[16.4,.16],[16.8,.16],[16.8,.16],[6.6,.19],[6.8,.19],[6.9,.19],[7.3,.19],[6.6,.2],
[12.7,.15],[12.4,.15],[12.4,.15],[12.6,.15],[12.7,.15],[47.4,.099],[29.2,.33],[33.8,.23],[39.2,.34],[42.8,.19],
[15.8,.17],[24.1,.17],[15.7,.165],[16.4,.165],[24.3,.18],[6.8,.18],[6.8,.18],[6.9,.18],[7.3,.18],[6.6,.18],
[12.7,.155],[12.7,.155],[12.4,.155],[12.7,.155],[12.4,.155],[0,.0847],[0,.084],[0.8,.0845],[0,.08365],[2,.0849]
];
// orange exponential-fit segment: [startHour, startOD, endHour, endOD]
const tangentLines = [
[9.3,.088,13.4,.365],[9.4,.088,13.6,.40],[9.4,.088,14,.44],[9.6,.088,14.2,.425],[9.6,.088,14.4,.425],
[4.6,.09,9.7,.61],[4.8,.09,10,.64],[4.9,.09,9.9,.62],[5.3,.09,10.4,.625],[4.6,.09,10,.645],
[9.7,.085,18.7,.51],[9.6,.085,18.6,.52],[9.8,.085,18.9,.525],[9.8,.085,18.8,.515],[9.9,.085,18.8,.515],
[8,.09,13.4,.74],[7.8,.09,13.4,.78],[8,.09,13.6,.70],[8,.09,13.5,.78],[8,.09,12.9,.69],
[12.2,.085,17.3,.385],[12,.085,17.7,.37],[11.6,.085,17.3,.375],[11.4,.08,17.6,.41],[12,.085,17.4,.405],
[4.6,.09,9.7,.60],[4.8,.09,9.9,.60],[4.9,.09,10,.60],[5.3,.09,10.4,.63],[4.6,.09,9.7,.57],
[9.7,.085,18.7,.51],[9.5,.085,18.2,.50],[9.5,.08,18.5,.51],[9.8,.085,18.8,.48],[9.6,.085,18.6,.48],
[8,.085,14.6,.75],[8.3,.085,14.8,.68],[8.2,.085,14.7,.75],[8.7,.085,15,.75],[8.5,.085,14.6,.74],
[12.9,.085,18.7,.39],[12.3,.085,17.8,.375],[12,.08,17.8,.385],[12,.08,17.8,.385],[12,.085,17.5,.385],
[4.6,.09,9.4,.53],[4.8,.09,9.9,.58],[4.9,.09,10,.54],[5.3,.09,10.2,.58],[4.6,.09,10,.58],
[9.7,.085,18.7,.50],[9.6,.085,18.3,.51],[9.5,.085,18.3,.49],[9.8,.085,18.6,.475],[9.8,.085,18.6,.505],
[10,.09,16.5,.71],[10.3,.09,16.8,.74],[10.9,.09,17.5,.69],[11.3,.09,17.6,.72],[11,.09,17,.745],
[13.4,.085,18.7,.42],[12.9,.085,18,.40],[14.1,.085,19,.385],[14.4,.085,19.7,.385],[14.4,.085,19.7,.38],
[4.6,.09,9.7,.60],[4.8,.09,9.9,.60],[4.9,.09,9.8,.545],[5.3,.09,10.2,.585],[4.6,.09,10,.615],
[9.9,.085,18.7,.49],[9.6,.085,18.6,.49],[9.6,.085,18.6,.49],[9.8,.085,18.8,.49],[9.9,.085,18.8,.49],
[39.1,.0853,47.5,.0992],[24.4,.09,31.9,.68],[30.4,.085,38.2,.68],[34,.085,41.8,.68],[39.7,.095,47.7,.43],
[13.4,.085,18.7,.435],[21,.085,27.7,.355],[13.4,.085,18.5,.425],[13.9,.085,19,.43],[20.9,.085,27.5,.37],
[4.8,.09,10.2,.58],[4.8,.09,10.2,.58],[4.9,.09,10.3,.58],[5.3,.09,10.3,.58],[4.6,.09,10.2,.60],
[10,.085,18.7,.525],[10,.085,18.7,.51],[9.8,.085,18.4,.51],[10,.085,18.7,.525],[9.8,.085,18.5,.53],
[0,.0845,5.4,.0878],[0,.0841,5.2,.0871],[0,.0841,6.7,.0869],[0,.0833,5.2,.0868],[0,.084,7.2,.0877]
];
// y-axis major break spacing per panel
const yTickSteps = [
.1,.1,.1,.1,.1,.2,.2,.2,.2,.2,
.1,.1,.1,.1,.1,.2,.2,.2,.2,.2,
.1,.1,.1,.1,.1,.2,.2,.2,.2,.2,
.1,.1,.1,.1,.1,.2,.2,.2,.2,.2,
.1,.1,.1,.1,.1,.1,.1,.2,.2,.2,
.1,.1,.1,.1,.1,.2,.2,.2,.2,.2,
.1,.1,.1,.1,.1,.2,.2,.2,.2,.2,
.1,.1,.1,.1,.1,.005,.2,.2,.2,.1,
.1,.1,.1,.1,.1,.2,.2,.2,.2,.2,
.1,.1,.1,.1,.1,.001,.001,.001,.001,.001
];
const stepwisePanels = [76, 96, 97, 98, 99, 100];

// ---------------- LAYOUT ----------------
const FONT = '"Liberation Sans", Arial, Helvetica, sans-serif';
const plotLefts = [83, 263, 443, 622, 802, 997, 1190, 1384, 1577, 1772];
const PLOT_W = 133, PLOT_H = 124, STRIP_H = 45, ROW_PITCH = 184.2, TOP0 = 15;
const AXW = 62, PAD = 10, PADR = 12, XAH = 28;
const X_MIN = -2.4, X_MAX = 50.4;

const curves = [].concat(odRow1, odRow2, odRow3, odRow4, odRow5, odRow6, odRow7, odRow8, odRow9, odRow10);
const root = document.getElementById('root');

const bgPlugin = {
  id: 'panelBg',
  beforeDraw(chart) {
    const a = chart.chartArea, ctx = chart.ctx;
    ctx.save(); ctx.fillStyle = '#EBEBEB';
    ctx.fillRect(a.left, a.top, a.right - a.left, a.bottom - a.top);
    ctx.restore();
  }
};

function toPoints(flat) {
  const pts = [];
  for (let i = 0; i < flat.length; i += 2) pts.push({x: flat[i], y: flat[i + 1]});
  return pts;
}

function makeYTicks(min, max, step) {
  const half = step / 2, out = [];
  for (let k = Math.ceil(min / half - 1e-9); k * half <= max + 1e-12; k++) {
    out.push({value: +(k * half).toFixed(6), isMinor: (k % 2) !== 0});
  }
  return out;
}

wells.forEach((well, i) => {
  const r = Math.floor(i / 10), c = i % 10;
  const bottom = (r === 9);
  const stripTop = Math.round(TOP0 + r * ROW_PITCH);
  const plotTop = stripTop + STRIP_H;
  const plotLeft = plotLefts[c];

  const blue = toPoints(curves[i]);
  const dot = {x: maxRateDots[i][0], y: maxRateDots[i][1]};
  const tl = tangentLines[i];
  const orange = [{x: tl[0], y: tl[1]}];
  if (dot.x > tl[0] + 0.05 && dot.x < tl[2] - 0.05) orange.push({x: dot.x, y: dot.y});
  orange.push({x: tl[2], y: tl[3]});

  const ys = blue.map(p => p.y).concat(orange.map(p => p.y), [dot.y]);
  const lo = Math.min(...ys), hi = Math.max(...ys), span = hi - lo;
  const yMin = lo - span * 0.05, yMax = hi + span * 0.05;
  const step = yTickSteps[i];
  const dec = Math.max(0, Math.ceil(-Math.log10(step) - 1e-9));
  const isMajorY = v => Math.abs(v / step - Math.round(v / step)) < 1e-6;

  const cv = document.createElement('canvas');
  const W = AXW + PLOT_W + PADR, H = PAD + PLOT_H + PAD + (bottom ? XAH : 0);
  cv.width = W; cv.height = H;
  cv.style.left = (plotLeft - AXW) + 'px';
  cv.style.top = (plotTop - PAD) + 'px';
  cv.style.width = W + 'px'; cv.style.height = H + 'px';
  root.appendChild(cv);

  const strip = document.createElement('div');
  strip.className = 'strip';
  strip.style.left = plotLeft + 'px';
  strip.style.top = stripTop + 'px';
  strip.style.width = PLOT_W + 'px';
  strip.style.height = STRIP_H + 'px';
  strip.textContent = String(well);
  root.appendChild(strip);

  const stepwise = stepwisePanels.includes(well);
  const xTickObjs = hourTicks.map(v => ({value: v, isMinor: false}))
    .concat(hourMinorTicks.map(v => ({value: v, isMinor: true})))
    .sort((a, b) => a.value - b.value);

  new Chart(cv, {
    type: 'line',
    data: {
      datasets: [
        {type: 'scatter', data: [dot], pointRadius: 7, pointHoverRadius: 7, backgroundColor: '#FF0000', borderWidth: 0, pointBorderWidth: 0, order: 1},
        {data: orange, borderColor: '#FFA500', borderWidth: 2, pointRadius: 0, fill: false, cubicInterpolationMode: 'monotone', order: 2},
        {data: blue, borderColor: '#0000FF', borderWidth: 2.6, pointRadius: 0, fill: false,
         cubicInterpolationMode: stepwise ? 'default' : 'monotone', tension: 0, order: 3}
      ]
    },
    options: {
      responsive: false, animation: false, devicePixelRatio: 1, events: [],
      layout: {padding: {left: 0, top: PAD, right: PADR, bottom: PAD}},
      plugins: {legend: {display: false}, tooltip: {enabled: false}, title: {display: false}},
      scales: {
        x: {
          type: 'linear', min: X_MIN, max: X_MAX, bounds: 'data', position: 'bottom',
          afterBuildTicks: s => { s.ticks = xTickObjs.map(t => ({value: t.value, isMinor: t.isMinor})); },
          afterFit: s => { s.height = bottom ? XAH : 0; },
          border: {display: false},
          grid: {
            color: '#FFFFFF',
            lineWidth: ctx => (ctx.tick && ctx.tick.isMinor) ? 1 : 2,
            drawTicks: bottom, tickLength: 7, tickWidth: 2,
            tickColor: ctx => (ctx.tick && ctx.tick.isMinor) ? 'rgba(0,0,0,0)' : '#333333'
          },
          ticks: {
            display: bottom, autoSkip: false, maxRotation: 0, minRotation: 0, padding: 4,
            color: '#4D4D4D', font: {family: FONT, size: 13},
            callback: v => hourTicks.includes(v) ? String(v) : ''
          }
        },
        y: {
          type: 'linear', min: yMin, max: yMax, bounds: 'data', position: 'left',
          afterBuildTicks: s => { s.ticks = makeYTicks(yMin, yMax, step); },
          afterFit: s => { s.width = AXW; },
          border: {display: false},
          grid: {
            color: '#FFFFFF',
            lineWidth: ctx => (ctx.tick && ctx.tick.isMinor) ? 1 : 2,
            drawTicks: true, tickLength: 7, tickWidth: 2,
            tickColor: ctx => (ctx.tick && ctx.tick.isMinor) ? 'rgba(0,0,0,0)' : '#333333'
          },
          ticks: {
            autoSkip: false, padding: 6, color: '#4D4D4D', font: {family: FONT, size: 13},
            callback: v => isMajorY(v) ? v.toFixed(dec) : ''
          }
        }
      }
    },
    plugins: [bgPlugin]
  });
});

const xt = document.createElement('div');
xt.className = 'ttl'; xt.textContent = xLabel;
xt.style.left = (994 - 150) + 'px'; xt.style.top = '1870px'; xt.style.width = '300px';
root.appendChild(xt);

const yt = document.createElement('div');
yt.className = 'ttl'; yt.textContent = yLabel;
yt.style.left = (27 - 100) + 'px'; yt.style.top = (951 - 16) + 'px'; yt.style.width = '200px'; yt.style.height = '32px';
yt.style.transform = 'rotate(-90deg)';
root.appendChild(yt);
</script></body></html>
